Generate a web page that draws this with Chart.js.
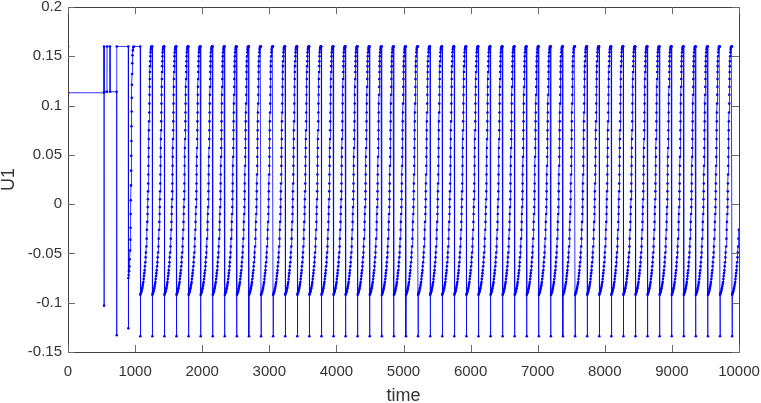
<!DOCTYPE html>
<html>
<head>
<meta charset="utf-8">
<script src="https://cdn.jsdelivr.net/npm/chart.js@4.4.1/dist/chart.umd.min.js"></script>
<style>
  html, body { margin: 0; padding: 0; background: #fff; }
  #wrap { width: 761px; height: 403px; }
</style>
</head>
<body>
<div id="wrap"><canvas id="chartU1" width="761" height="403"></canvas></div>
<script>
// start-up part, read point by point (before the regular cycles)
const earlyTime = [0, 1, 2, 536, 537, 538, 539, 581, 582, 626, 627, 725, 726, 727, 898,
  899, 900, 905, 910, 915, 920, 925, 929, 932, 935, 937, 939, 941, 943, 945, 947, 949,
  951, 953, 955, 958, 962, 967, 973, 980, 1076];
const earlyU = [0, 0.160, 0.113, 0.113, 0.160, -0.103, 0.114, 0.114, 0.160, 0.160, 0.114, 0.114, -0.133, 0.160, 0.160,
  -0.126, -0.075, -0.072, -0.068, -0.063, -0.056, -0.047, -0.036, -0.024, -0.010, 0.004, 0.019, 0.034, 0.049, 0.064, 0.079, 0.094,
  0.108, 0.121, 0.132, 0.143, 0.151, 0.156, 0.159, 0.160, 0.160];

// times of the sharp drops (one per cycle)
const dropTimes = [1077, 1257, 1437, 1617, 1797, 1977, 2157, 2337, 2517, 2697,
  2877, 3057, 3237, 3417, 3597, 3777, 3957, 4137, 4317, 4497,
  4677, 4857, 5037, 5217, 5397, 5577, 5757, 5937, 6117, 6297,
  6477, 6657, 6837, 7017, 7197, 7377, 7557, 7737, 7917, 8097,
  8277, 8457, 8637, 8817, 8997, 9177, 9357, 9537, 9717, 9897];

// shape of one cycle after a drop: time offset and U1 value
const cycleDt = [0, 1, 5, 10, 15, 20, 25, 30, 35, 40, 45, 50, 55, 60, 65, 70, 75, 80, 85, 90, 95, 100,
  104, 108, 111, 114, 116, 118, 120, 122, 124, 126, 128, 130, 132, 134, 136, 138, 140, 142, 144, 146, 148,
  151, 154, 158, 163, 168, 173, 178];
const cycleU = [-0.134, -0.092, -0.091, -0.090, -0.089, -0.088, -0.086, -0.085, -0.083, -0.081, -0.079, -0.076, -0.073, -0.070, -0.067, -0.063, -0.059, -0.054, -0.049, -0.043, -0.035, -0.026,
  -0.018, -0.010, -0.003, 0.005, 0.013, 0.021, 0.030, 0.039, 0.048, 0.057, 0.066, 0.075, 0.084, 0.093, 0.102, 0.111, 0.119, 0.127, 0.134, 0.140, 0.145,
  0.150, 0.154, 0.157, 0.159, 0.160, 0.160, 0.160];

const xTicks = [0, 1000, 2000, 3000, 4000, 5000, 6000, 7000, 8000, 9000, 10000];
const yTicks = [-0.15, -0.1, -0.05, 0, 0.05, 0.1, 0.15, 0.2];

const points = [];
earlyTime.forEach((t, i) => points.push({ x: t, y: earlyU[i] }));
dropTimes.forEach(t0 => {
  cycleDt.forEach((d, i) => {
    if (t0 + d <= 10000) points.push({ x: t0 + d, y: cycleU[i] });
  });
});

const axisColor = "#404040";
const tickLen = 7;

// box round the plot and inward ticks, MATLAB style
const boxTicks = {
  id: "boxTicks",
  afterDraw(chart) {
    const { ctx, chartArea: a, scales } = chart;
    ctx.save();
    ctx.strokeStyle = axisColor;
    ctx.lineWidth = 1;
    ctx.beginPath();
    ctx.rect(Math.round(a.left) + 0.5, Math.round(a.top) + 0.5,
      Math.round(a.right - a.left), Math.round(a.bottom - a.top));
    ctx.stroke();
    ctx.strokeStyle = "#6a6a6a";
    ctx.beginPath();
    xTicks.forEach(v => {
      const px = Math.round(scales.x.getPixelForValue(v)) + 0.5;
      ctx.moveTo(px, a.bottom); ctx.lineTo(px, a.bottom - tickLen);
      ctx.moveTo(px, a.top); ctx.lineTo(px, a.top + tickLen);
    });
    yTicks.forEach(v => {
      const py = Math.round(scales.y.getPixelForValue(v)) + 0.5;
      ctx.moveTo(a.left, py); ctx.lineTo(a.left + tickLen, py);
      ctx.moveTo(a.right, py); ctx.lineTo(a.right - tickLen, py);
    });
    ctx.stroke();
    ctx.restore();
  }
};

const font = "'Liberation Sans', Arial, Helvetica, sans-serif";

new Chart(document.getElementById("chartU1"), {
  type: "line",
  data: {
    datasets: [{
      data: points,
      borderColor: "#0000ff",
      borderWidth: 0.8,
      backgroundColor: "#0000ff",
      pointRadius: 1.3,
      pointBorderWidth: 0,
      pointBackgroundColor: "#0000ff",
      tension: 0,
      fill: false
    }]
  },
  options: {
    responsive: false,
    animation: false,
    events: [],
    layout: { padding: { top: 7, right: 22, left: 0, bottom: 0 } },
    plugins: { legend: { display: false }, tooltip: { enabled: false } },
    scales: {
      x: {
        type: "linear",
        min: 0, max: 10000,
        afterFit: s => { s.height = 51; s.paddingLeft = 0; s.paddingRight = 0; },
        afterBuildTicks: s => { s.ticks = xTicks.map(v => ({ value: v })); },
        grid: { display: false, drawTicks: false },
        border: { display: false },
        ticks: {
          padding: 11, color: "#333",
          font: { family: font, size: 15 },
          maxRotation: 0,
          callback: v => String(v)
        },
        title: {
          display: true, text: "time", color: "#333",
          font: { family: font, size: 18 },
          padding: { top: 0, bottom: -4 }
        }
      },
      y: {
        type: "linear",
        min: -0.15, max: 0.2,
        afterFit: s => { s.width = 68; s.paddingTop = 0; s.paddingBottom = 0; },
        afterBuildTicks: s => { s.ticks = yTicks.map(v => ({ value: v })); },
        grid: { display: false, drawTicks: false },
        border: { display: false },
        ticks: {
          padding: 6, color: "#333",
          font: { family: font, size: 15 },
          callback: v => String(parseFloat(Number(v).toFixed(2)))
        },
        title: {
          display: true, text: "U1", color: "#333",
          font: { family: font, size: 18 },
          padding: { top: -2, bottom: 0 }
        }
      }
    }
  },
  plugins: [boxTicks]
});
</script>
</body>
</html>
